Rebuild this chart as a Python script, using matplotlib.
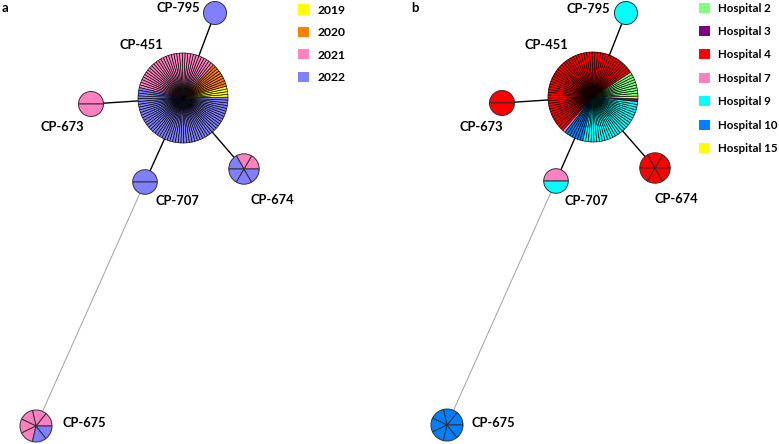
import matplotlib
matplotlib.use('Agg')
import matplotlib.pyplot as plt
from matplotlib.patches import Patch

W, H = 779, 444
plt.rcParams['font.family'] = ['Lato', 'DejaVu Sans']

years = ['2019', '2020', '2021', '2022']
year_colors = ['#FFFF00', '#FF8000', '#FF80C0', '#8080FF']
hospitals = ['Hospital 2', 'Hospital 3', 'Hospital 4', 'Hospital 7',
             'Hospital 9', 'Hospital 10', 'Hospital 15']
hosp_colors = ['#80FF80', '#800080', '#FF0000', '#FF80C0',
               '#00FFFF', '#0080FF', '#FFFF00']

nodes = ['CP-451', 'CP-795', 'CP-673', 'CP-707', 'CP-674', 'CP-675']
# isolates per year for each node
year_counts = {
    'CP-451': [4, 9, 33, 54],
    'CP-795': [0, 0, 0, 1],
    'CP-673': [0, 0, 2, 0],
    'CP-707': [0, 0, 0, 2],
    'CP-674': [0, 0, 2, 4],
    'CP-675': [0, 0, 5, 2],
}
# isolates per hospital for each node
hosp_counts = {
    'CP-451': [9, 1, 54, 1, 27, 7, 1],
    'CP-795': [0, 0, 0, 0, 1, 0, 0],
    'CP-673': [0, 0, 2, 0, 0, 0, 0],
    'CP-707': [0, 0, 0, 1, 1, 0, 0],
    'CP-674': [0, 0, 6, 0, 0, 0, 0],
    'CP-675': [0, 0, 0, 0, 0, 7, 0],
}
links = [('CP-451', 'CP-795'), ('CP-451', 'CP-673'), ('CP-451', 'CP-707'),
         ('CP-451', 'CP-674'), ('CP-707', 'CP-675')]

# ---- layout (pixel positions, y downward) ----
pos_a = {'CP-451': (183, 98), 'CP-795': (215, 13), 'CP-673': (91, 104),
         'CP-707': (145, 182), 'CP-674': (244, 169), 'CP-675': (36, 426)}
pos_b = {'CP-451': (593, 97), 'CP-795': (626, 13), 'CP-673': (502, 103),
         'CP-707': (556, 181), 'CP-674': (655, 168), 'CP-675': (447, 425)}
radius = {'CP-451': 45, 'CP-795': 11.5, 'CP-673': 12.5, 'CP-707': 12.3,
          'CP-674': 15.2, 'CP-675': 16}
lab_a = {'CP-451': (141, 45), 'CP-795': (178, 8), 'CP-673': (62, 127),
         'CP-707': (177, 201), 'CP-674': (272, 200), 'CP-675': (84, 423)}
lab_b = {'CP-451': (546, 45), 'CP-795': (588, 9), 'CP-673': (481, 127),
         'CP-707': (586, 201), 'CP-674': (676, 199), 'CP-675': (493, 423)}
start_a = {'CP-451': 1}
start_b = {'CP-451': -6}
order_b = {'CP-451': [1, 6, 0, 2, 3, 5, 4]}

fig = plt.figure(figsize=(W / 100, H / 100), dpi=100)
ax = fig.add_axes([0, 0, 1, 1])


def draw_panel(pos, labpos, counts, colors, starts, orders):
    for a, b in links:
        (x1, y1), (x2, y2) = pos[a], pos[b]
        if b == 'CP-675':
            ax.plot([x1, x2], [H - y1, H - y2], color='#a0a0a0', lw=0.7, zorder=1)
        else:
            ax.plot([x1, x2], [H - y1, H - y2], color='black', lw=1.0, zorder=1)
    for n in nodes:
        cnt = counts[n]
        order = orders.get(n, range(len(cnt)))
        cols = []
        for i in order:
            cols += [colors[i]] * cnt[i]
        big = n == 'CP-451'
        x, y = pos[n]
        wedges, _ = ax.pie([1] * len(cols), colors=cols, center=(x, H - y),
                           radius=radius[n], startangle=starts.get(n, 0),
                           counterclock=True,
                           wedgeprops=dict(edgecolor='black' if big else '#303030',
                                           linewidth=0.45 if big else 0.7))
        for w in wedges:
            w.set_zorder(2)
        lx, ly = labpos[n]
        ax.text(lx, H - ly, n, ha='center', va='center', fontsize=9.3,
                fontweight='bold', zorder=3)


draw_panel(pos_a, lab_a, year_counts, year_colors, start_a, {})
draw_panel(pos_b, lab_b, hosp_counts, hosp_colors, start_b, order_b)

ax.text(2, H - 8, 'a', fontsize=9.5, fontweight='bold', ha='left', va='center')
ax.text(411, H - 8, 'b', fontsize=9.5, fontweight='bold', ha='left', va='center')

ax.set_xlim(0, W)
ax.set_ylim(0, H)
ax.set_aspect('equal')
ax.axis('off')

leg_kw = dict(loc='upper left', frameon=False, borderpad=0, borderaxespad=0)
h_a = [Patch(facecolor=c, edgecolor='none') for c in year_colors]
fig.legend(h_a, years, bbox_to_anchor=(298 / W, 1 - 4.5 / H),
           handlelength=0.92, handleheight=0.92, handletextpad=0.72,
           prop={'weight': 'bold', 'size': 8.7}, labelspacing=0.92, **leg_kw)
h_b = [Patch(facecolor=c, edgecolor='none') for c in hosp_colors]
fig.legend(h_b, hospitals, bbox_to_anchor=(699 / W, 1 - 2.5 / H),
           handlelength=0.96, handleheight=0.96, handletextpad=0.7,
           prop={'weight': 'bold', 'size': 8.3}, labelspacing=1.08, **leg_kw)

fig.savefig('out.png', dpi=100)
